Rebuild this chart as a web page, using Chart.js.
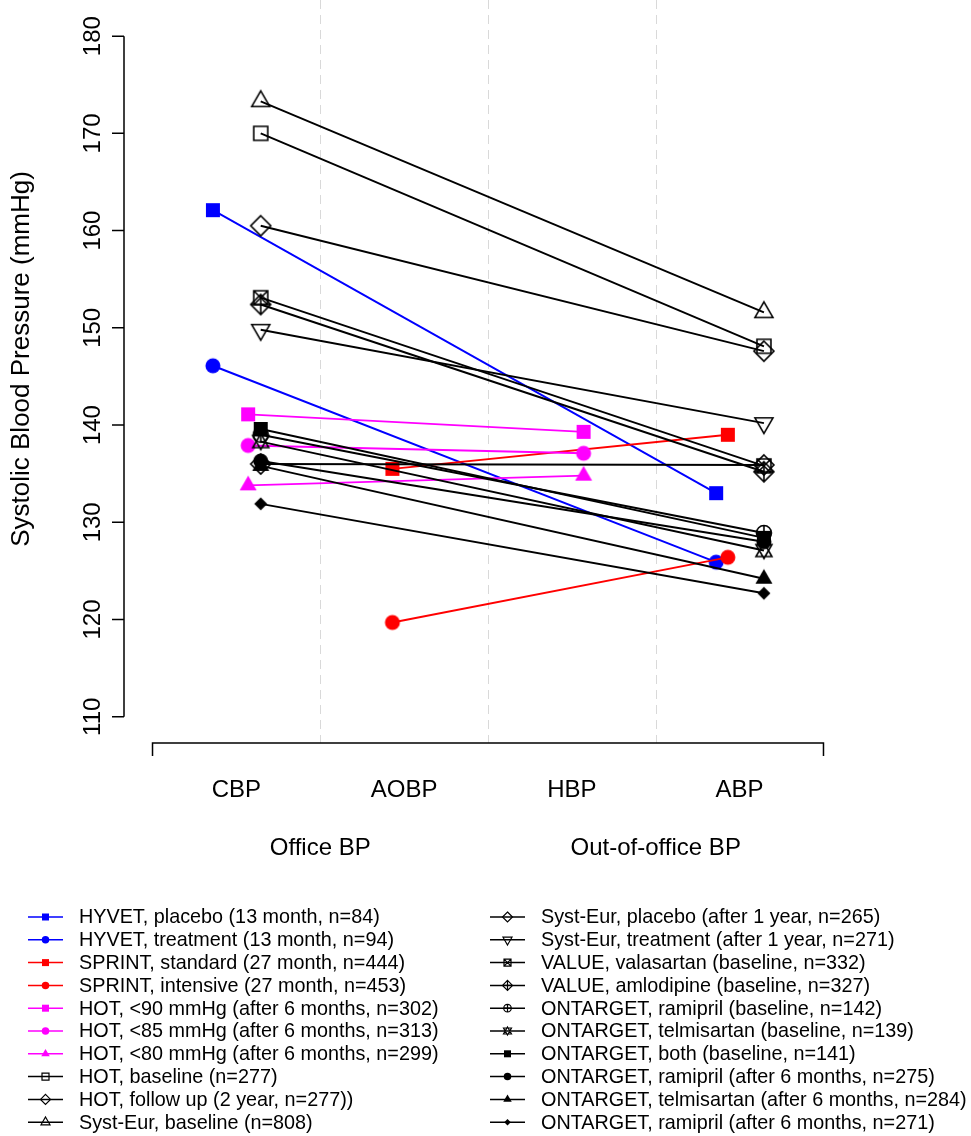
<!DOCTYPE html>
<html>
<head>
<meta charset="utf-8">
<script src="https://cdn.jsdelivr.net/npm/chart.js@4.4.0/dist/chart.umd.min.js"></script>
<style>
  html, body { margin: 0; padding: 0; background: #fff; }
  #wrap { width: 971px; height: 1136px; }
</style>
</head>
<body>
<div id="wrap"><canvas id="myChart" width="971" height="1136"></canvas></div>
<script>
// categories on the x axis and the two groups under them
const categories = ['CBP', 'AOBP', 'HBP', 'ABP'];
const bpGroups = ['Office BP', 'Out-of-office BP'];
const yTicks = [110, 120, 130, 140, 150, 160, 170, 180];
const yTitle = 'Systolic Blood Pressure (mmHg)';

// values per category: CBP, AOBP, HBP, ABP (null = not measured)
const hyvetPlacebo       = [162.1, null, null, 133.0];
const hyvetTreatment     = [146.1, null, null, 125.9];
const sprintStandard     = [null, 135.5, null, 139.0];
const sprintIntensive    = [null, 119.7, null, 126.4];
const hot90              = [141.1, null, 139.3, null];
const hot85              = [137.9, null, 137.1, null];
const hot80              = [133.8, null, 134.8, null];
const hotBaseline        = [170.0, null, null, 148.1];
const hotFollowUp        = [136.0, null, null, 135.9];
const systEurBaseline    = [173.3, null, null, 151.6];
const systEurPlacebo     = [160.5, null, null, 147.6];
const systEurTreatment   = [149.8, null, null, 140.2];
const valueValsartan     = [153.1, null, null, 135.8];
const valueAmlodipine    = [152.4, null, null, 135.2];
const ontRamiprilBase    = [139.0, null, null, 128.9];
const ontTelmisartanBase = [138.3, null, null, 127.1];
const ontBothBase        = [139.6, null, null, 128.4];
const ontRamipril6m      = [136.3, null, null, 128.0];
const ontTelmisartan6m   = [135.8, null, null, 124.2];
const ontRamipril6m271   = [131.9, null, null, 122.7];

const seriesLabels = [
  'HYVET, placebo (13 month, n=84)',
  'HYVET, treatment (13 month, n=94)',
  'SPRINT, standard (27 month, n=444)',
  'SPRINT, intensive (27 month, n=453)',
  'HOT, <90 mmHg (after 6 months, n=302)',
  'HOT, <85 mmHg (after 6 months, n=313)',
  'HOT, <80 mmHg (after 6 months, n=299)',
  'HOT, baseline (n=277)',
  'HOT, follow up (2 year, n=277))',
  'Syst-Eur, baseline (n=808)',
  'Syst-Eur, placebo (after 1 year, n=265)',
  'Syst-Eur, treatment (after 1 year, n=271)',
  'VALUE, valasartan (baseline, n=332)',
  'VALUE, amlodipine (baseline, n=327)',
  'ONTARGET, ramipril (baseline, n=142)',
  'ONTARGET, telmisartan (baseline, n=139)',
  'ONTARGET, both (baseline, n=141)',
  'ONTARGET, ramipril (after 6 months, n=275)',
  'ONTARGET, telmisartan (after 6 months, n=284)',
  'ONTARGET, ramipril (after 6 months, n=271)'
];

const seriesValues = [
  hyvetPlacebo, hyvetTreatment, sprintStandard, sprintIntensive,
  hot90, hot85, hot80, hotBaseline, hotFollowUp, systEurBaseline,
  systEurPlacebo, systEurTreatment, valueValsartan, valueAmlodipine,
  ontRamiprilBase, ontTelmisartanBase, ontBothBase, ontRamipril6m,
  ontTelmisartan6m, ontRamipril6m271
];

// styling: colour, marker, study offset (jitter) per series
const seriesColors = ['#0000ff', '#0000ff', '#ff0000', '#ff0000', '#ff00ff', '#ff00ff', '#ff00ff',
  '#000', '#000', '#000', '#000', '#000', '#000', '#000', '#000', '#000', '#000', '#000', '#000', '#000'];
const seriesMarkers = ['square', 'circle', 'square', 'circle', 'square', 'circle', 'triangle',
  'squareOpen', 'diamondOpen', 'triangleOpen', 'diamondOpen', 'triangleDownOpen', 'squareX', 'diamondPlus',
  'circlePlus', 'star', 'square', 'circle', 'triangle', 'diamond'];
const seriesOffsets = [-0.14, -0.14, -0.07, -0.07, 0.07, 0.07, 0.07,
  0.145, 0.145, 0.145, 0.145, 0.145, 0.145, 0.145, 0.145, 0.145, 0.145, 0.145, 0.145, 0.145];

const FONT = '"Liberation Sans", Arial, Helvetica, sans-serif';

function tri(ctx, x, y, side, dir) {
  const h = side * Math.sqrt(3) / 2;
  ctx.moveTo(x, y - dir * 2 * h / 3);
  ctx.lineTo(x + side / 2, y + dir * h / 3);
  ctx.lineTo(x - side / 2, y + dir * h / 3);
  ctx.closePath();
}

function drawGlyph(ctx, kind, x, y, s, color) {
  ctx.save();
  ctx.fillStyle = color;
  ctx.strokeStyle = color;
  ctx.lineWidth = s < 1 ? 1.2 : 1.6;
  ctx.beginPath();
  switch (kind) {
    case 'square':
      ctx.rect(x - 7 * s, y - 7 * s, 14 * s, 14 * s); ctx.fill(); break;
    case 'squareOpen':
      ctx.rect(x - 7 * s, y - 7 * s, 14 * s, 14 * s); ctx.stroke(); break;
    case 'circle':
      ctx.arc(x, y, 7.5 * s, 0, Math.PI * 2); ctx.fill(); break;
    case 'triangle':
      tri(ctx, x, y, 17 * s, 1); ctx.fill(); break;
    case 'triangleOpen':
      tri(ctx, x, y, 18 * s, 1); ctx.stroke(); break;
    case 'triangleDownOpen':
      tri(ctx, x, y, 18 * s, -1); ctx.stroke(); break;
    case 'diamond':
      ctx.moveTo(x, y - 6.5 * s); ctx.lineTo(x + 6.5 * s, y); ctx.lineTo(x, y + 6.5 * s); ctx.lineTo(x - 6.5 * s, y);
      ctx.closePath(); ctx.fill(); break;
    case 'diamondOpen':
      ctx.moveTo(x, y - 10 * s); ctx.lineTo(x + 10 * s, y); ctx.lineTo(x, y + 10 * s); ctx.lineTo(x - 10 * s, y);
      ctx.closePath(); ctx.stroke(); break;
    case 'squareX':
      ctx.rect(x - 7 * s, y - 7 * s, 14 * s, 14 * s);
      ctx.moveTo(x - 7 * s, y - 7 * s); ctx.lineTo(x + 7 * s, y + 7 * s);
      ctx.moveTo(x + 7 * s, y - 7 * s); ctx.lineTo(x - 7 * s, y + 7 * s);
      ctx.stroke(); break;
    case 'diamondPlus':
      ctx.moveTo(x, y - 10 * s); ctx.lineTo(x + 10 * s, y); ctx.lineTo(x, y + 10 * s); ctx.lineTo(x - 10 * s, y);
      ctx.closePath();
      ctx.moveTo(x, y - 10 * s); ctx.lineTo(x, y + 10 * s);
      ctx.moveTo(x - 10 * s, y); ctx.lineTo(x + 10 * s, y);
      ctx.stroke(); break;
    case 'circlePlus':
      ctx.arc(x, y, 7.5 * s, 0, Math.PI * 2);
      ctx.moveTo(x, y - 7.5 * s); ctx.lineTo(x, y + 7.5 * s);
      ctx.moveTo(x - 7.5 * s, y); ctx.lineTo(x + 7.5 * s, y);
      ctx.stroke(); break;
    case 'star':
      ctx.moveTo(x, y - 8 * s); ctx.lineTo(x + 8 * s, y + 6 * s); ctx.lineTo(x - 8 * s, y + 6 * s); ctx.closePath();
      ctx.moveTo(x, y + 8 * s); ctx.lineTo(x + 8 * s, y - 6 * s); ctx.lineTo(x - 8 * s, y - 6 * s); ctx.closePath();
      ctx.stroke(); break;
  }
  ctx.restore();
}

// pre-render plot markers into small canvases used as Chart.js pointStyle
function glyphCanvas(kind, color) {
  const c = document.createElement('canvas');
  c.width = 28; c.height = 28;
  drawGlyph(c.getContext('2d'), kind, 14, 14, 1, color);
  return c;
}

const datasets = seriesValues.map((vals, i) => ({
  label: seriesLabels[i],
  data: vals.map((v, k) => v === null ? null : { x: k + 1 + seriesOffsets[i], y: v }).filter(p => p),
  borderColor: seriesColors[i],
  backgroundColor: seriesColors[i],
  borderWidth: 1.9,
  pointStyle: glyphCanvas(seriesMarkers[i], seriesColors[i]),
  pointRadius: 7,
  showLine: true,
  fill: false,
  tension: 0,
  order: -i
}));

const rAxesPlugin = {
  id: 'rAxes',
  beforeDatasetsDraw(chart) {
    const ctx = chart.ctx, xs = chart.scales.x;
    const bottom = chart.chartArea.bottom - 1;
    ctx.save();
    ctx.strokeStyle = '#d9d9d9';
    ctx.lineWidth = 1;
    ctx.setLineDash([9, 6]);
    for (let k = 1; k < categories.length; k++) {
      const px = Math.round(xs.getPixelForValue(k + 0.5)) + 0.5;
      ctx.beginPath(); ctx.moveTo(px, 0); ctx.lineTo(px, bottom); ctx.stroke();
    }
    ctx.restore();
  },
  afterDraw(chart) {
    const ctx = chart.ctx, xs = chart.scales.x, ys = chart.scales.y;
    const ax = chart.chartArea.left;
    const ay = chart.chartArea.bottom - 1;
    ctx.save();
    ctx.strokeStyle = '#000';
    ctx.lineWidth = 1.5;
    // y axis
    ctx.beginPath();
    ctx.moveTo(ax, ys.getPixelForValue(yTicks[0]));
    ctx.lineTo(ax, ys.getPixelForValue(yTicks[yTicks.length - 1]));
    yTicks.forEach(t => {
      const py = ys.getPixelForValue(t);
      ctx.moveTo(ax, py); ctx.lineTo(ax - 12, py);
    });
    // x axis
    const x0 = xs.getPixelForValue(0.5), x1 = xs.getPixelForValue(categories.length + 0.5);
    ctx.moveTo(x0, ay + 13); ctx.lineTo(x0, ay); ctx.lineTo(x1, ay); ctx.lineTo(x1, ay + 13);
    ctx.stroke();

    ctx.fillStyle = '#000';
    ctx.textAlign = 'center';
    ctx.textBaseline = 'middle';
    ctx.font = '24px ' + FONT;
    yTicks.forEach(t => {
      ctx.save();
      ctx.translate(ax - 31, ys.getPixelForValue(t));
      ctx.rotate(-Math.PI / 2);
      ctx.fillText(String(t), 0, 0);
      ctx.restore();
    });
    ctx.save();
    ctx.font = '26px ' + FONT;
    ctx.translate(22, ys.getPixelForValue(146.8));
    ctx.rotate(-Math.PI / 2);
    ctx.fillText(yTitle, 0, 0);
    ctx.restore();

    categories.forEach((c, k) => ctx.fillText(c, xs.getPixelForValue(k + 1), ay + 47));
    bpGroups.forEach((g, k) => ctx.fillText(g, xs.getPixelForValue(2 * k + 1.5), ay + 105));

    // legend, two columns of ten
    ctx.font = '19.8px ' + FONT;
    chart.data.datasets.forEach((ds, i) => {
      const col = Math.floor(i / 10), row = i % 10;
      const lx = col === 0 ? 28 : 490;
      const ly = 917 + row * 22.8;
      ctx.strokeStyle = seriesColors[i];
      ctx.lineWidth = 1.5;
      ctx.beginPath(); ctx.moveTo(lx, ly); ctx.lineTo(lx + 35, ly); ctx.stroke();
      drawGlyph(ctx, seriesMarkers[i], lx + 17.5, ly, 0.5, seriesColors[i]);
      ctx.fillStyle = '#000';
      ctx.textAlign = 'left';
      ctx.fillText(ds.label, lx + 51, ly + 1);
    });
    ctx.restore();
  }
};

new Chart(document.getElementById('myChart'), {
  type: 'line',
  data: { datasets },
  options: {
    responsive: false,
    animation: false,
    devicePixelRatio: 1,
    layout: { padding: { left: 124, top: 4, right: 119, bottom: 392 } },
    scales: {
      x: { type: 'linear', min: 0.33, max: 4.67, display: false },
      y: { type: 'linear', min: 107.2, max: 182.8, display: false }
    },
    plugins: { legend: { display: false }, tooltip: { enabled: false } }
  },
  plugins: [rAxesPlugin]
});
</script>
</body>
</html>
